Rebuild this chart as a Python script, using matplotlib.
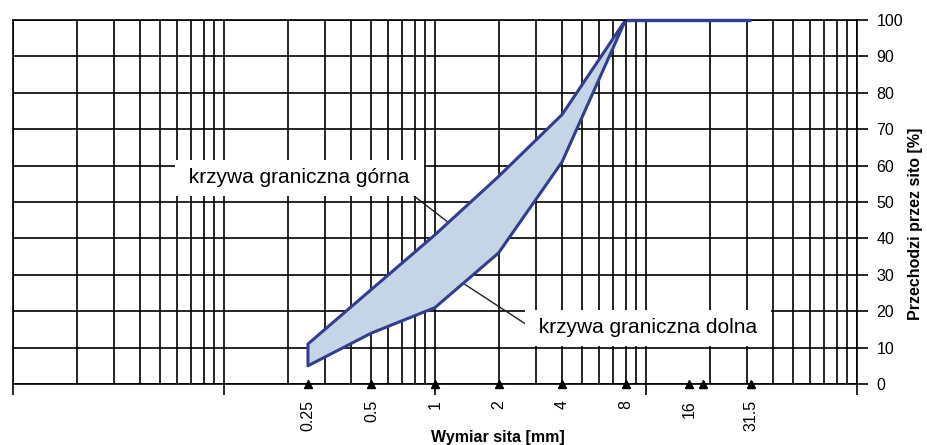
import numpy as np
import matplotlib
matplotlib.use('Agg')
import matplotlib.pyplot as plt
from matplotlib.ticker import LogLocator, MultipleLocator, NullFormatter

# sieve sizes [mm] and grading envelope [% passing]
sieve_x = [0.25, 0.5, 1, 2, 4, 8]
upper_y = [11, 26, 41, 57, 74, 100]
lower_y = [5, 14, 21, 36, 61, 100]
cap_x = [8, 31.5]
cap_y = [100, 100]

marker_x = [0.25, 0.5, 1, 2, 4, 8, 16, 18.6, 31.5]
label_x = [0.25, 0.5, 1, 2, 4, 8, 16, 31.5]
label_txt = ['0.25', '0.5', '1', '2', '4', '8', '16', '31.5']

plt.rcParams['font.family'] = ['Liberation Sans', 'DejaVu Sans']

line_col = '#323e8c'
fill_col = '#c6d4e8'

fig = plt.figure(figsize=(9.28, 4.45), dpi=100)
ax = fig.add_axes([13 / 928, 1 - 384 / 445, 844 / 928, 364 / 445])

ax.set_xscale('log')
ax.set_xlim(0.01, 100)
ax.set_ylim(0, 100)

# grid
ax.xaxis.set_major_locator(LogLocator(base=10))
ax.xaxis.set_minor_locator(LogLocator(base=10, subs=np.arange(2, 10)))
ax.xaxis.set_major_formatter(NullFormatter())
ax.xaxis.set_minor_formatter(NullFormatter())
ax.yaxis.set_major_locator(MultipleLocator(10))
ax.grid(which='both', color='black', lw=1.2, zorder=1)

ax.tick_params(axis='x', which='major', direction='out', length=8, width=1.2, color='black')
ax.tick_params(axis='x', which='minor', length=0)
ax.yaxis.tick_right()
ax.tick_params(axis='y', direction='out', length=8, width=1.2, pad=6, labelsize=11.5)
for s in ax.spines.values():
    s.set_linewidth(1.2)
    s.set_color('black')

# annotation leader lines (under the envelope)
ax.plot([0.761, 1.15], [52.5, 44.5], color='#222222', lw=1.0, zorder=1.8)
ax.plot([2.82, 1.357], [15.7, 27.7], color='#222222', lw=1.0, zorder=1.8)

# envelope
poly_x = sieve_x + sieve_x[::-1]
poly_y = upper_y + lower_y[::-1]
ax.fill(poly_x, poly_y, facecolor=fill_col, edgecolor=line_col, lw=2.2,
        joinstyle='round', zorder=2)
ax.plot(cap_x, cap_y, color=line_col, lw=2.4, solid_capstyle='butt',
        zorder=5, clip_on=False)

# sieve markers and labels
ax.plot(marker_x, np.zeros(len(marker_x)), '^', color='black', ms=6,
        clip_on=False, zorder=4)
tr = ax.get_xaxis_transform()
for x, t in zip(label_x, label_txt):
    ax.text(x, -0.044, t, transform=tr, rotation=90, ha='center', va='top',
            fontsize=11.5)

# curve labels
box = dict(boxstyle='square,pad=0.4', facecolor='white', edgecolor='none')
ax.text(0.0640, 56.6, ' krzywa graniczna górna ', fontsize=15, va='center',
        ha='left', bbox=box, zorder=3)
ax.text(2.92, 15.4, ' krzywa graniczna dolna ', fontsize=15, va='center',
        ha='left', bbox=box, zorder=3)

ax.set_xlabel('Wymiar sita [mm]', fontsize=11.5, fontweight='bold')
ax.xaxis.set_label_coords(0.575, -0.146)
ax.xaxis.label.set_va('center')
ax.yaxis.set_label_position('right')
ax.set_ylabel('Przechodzi przez sito [%]', fontsize=11.5, fontweight='bold')
ax.yaxis.set_label_coords(1.069, 0.44)
ax.yaxis.label.set_va('center')

fig.savefig('out.png', dpi=100)
